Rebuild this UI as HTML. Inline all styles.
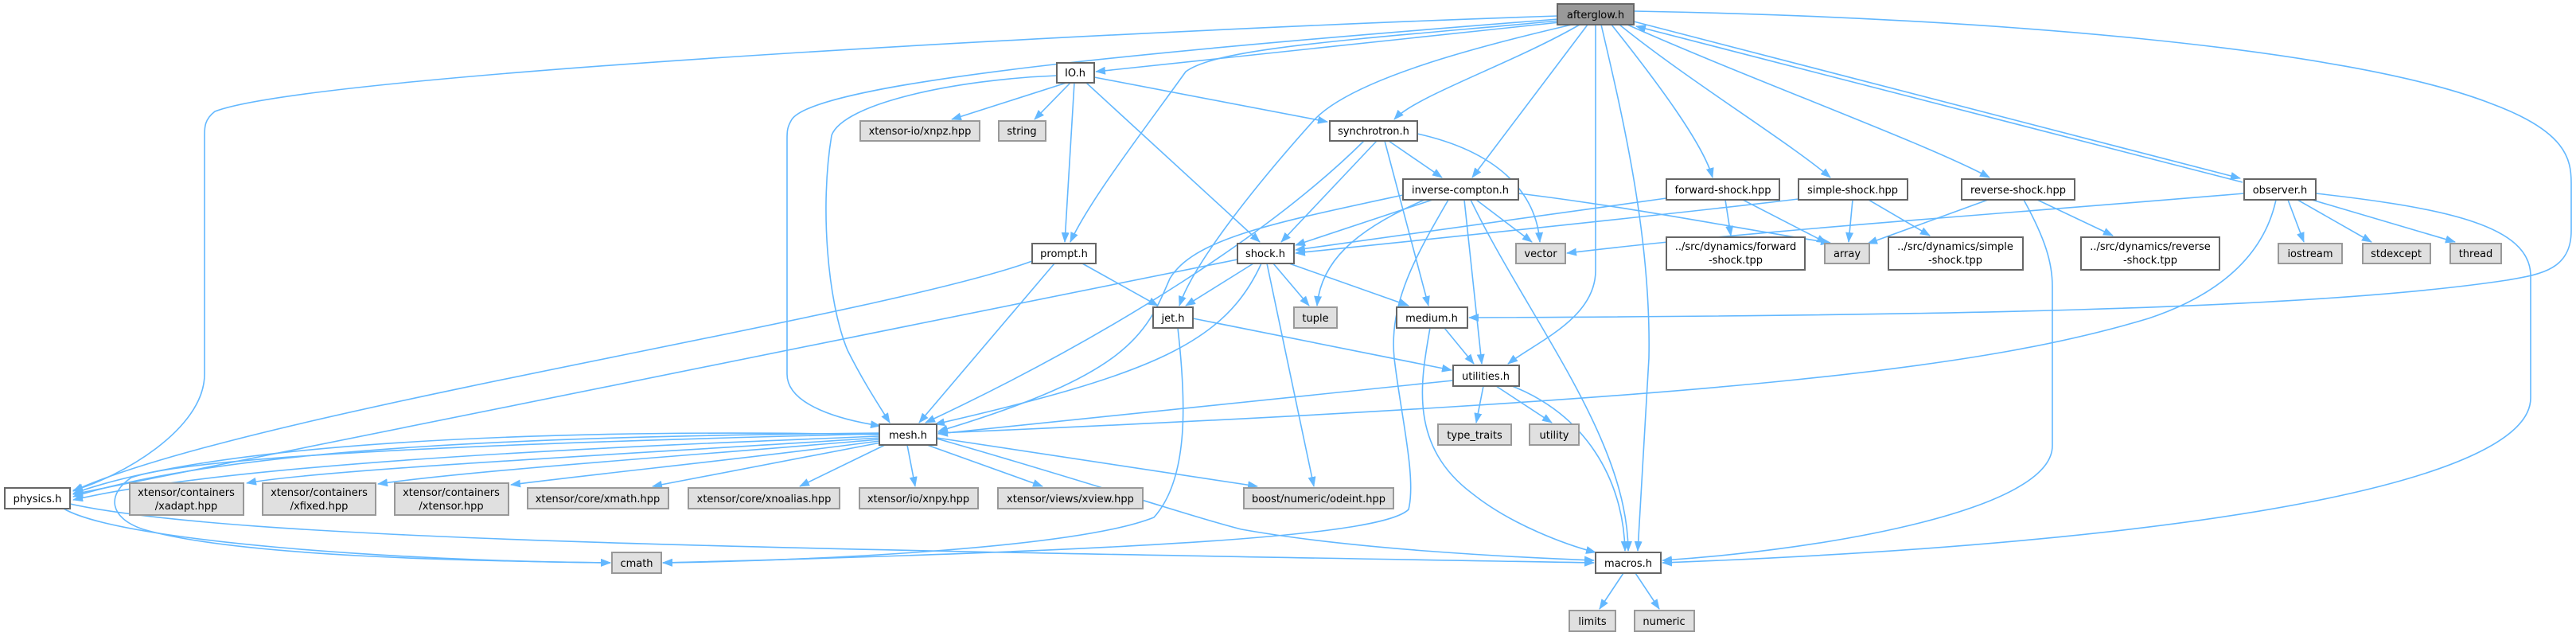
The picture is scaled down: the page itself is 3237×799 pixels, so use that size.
<!DOCTYPE html>
<html><head><meta charset="utf-8"><style>
html,body{margin:0;padding:0;background:#fff;}
svg{display:block;}
text{font-family:"DejaVu Sans","Liberation Sans",sans-serif;font-size:13px;fill:#000;text-anchor:middle;}
.e{fill:none;stroke:#63b8ff;stroke-width:1.6;marker-end:url(#a);}
.n{fill:#fff;stroke:#666;stroke-width:2;}
.g{fill:#e0e0e0;stroke:#999;stroke-width:2;}
</style></head><body>
<svg width="3237" height="799" viewBox="0 0 3237 799" xmlns="http://www.w3.org/2000/svg">
<defs><marker id="a" markerWidth="13" markerHeight="10" refX="12" refY="5" orient="auto" markerUnits="userSpaceOnUse"><path d="M0,0 L13,5 L0,10z" fill="#63b8ff"/></marker></defs>
<g>
<path class="e" d="M1960,28 L1377,90"/>
<path class="e" d="M1958,20 C1500,35 400,90 270,140 C257,150 257,160 257,170 L257,470 C257,540 150,600 92,616"/>
<path class="e" d="M1958,24 C1500,60 1030,100 995,150 C989,160 989,165 989,175 L989,470 C989,510 1060,528 1106,535"/>
<path class="e" d="M1328,95 C1200,100 1060,130 1045,170 C1030,260 1040,380 1065,440 C1085,480 1105,510 1118,531"/>
<path class="e" d="M1960,26 C1700,50 1530,60 1490,90 C1440,160 1370,250 1345,304"/>
<path class="e" d="M1975,31 C1850,60 1700,100 1652,150 C1580,230 1500,330 1482,384"/>
<path class="e" d="M1985,31 C1900,80 1780,120 1752,150"/>
<path class="e" d="M1995,31 L1850,223"/>
<path class="e" d="M2005,31 L2005,340 C2005,400 1930,430 1895,457"/>
<path class="e" d="M2012,31 C2040,150 2075,300 2072,450 L2058,692"/>
<path class="e" d="M2025,31 C2080,100 2140,180 2152,223"/>
<path class="e" d="M2035,31 C2120,100 2250,180 2300,223"/>
<path class="e" d="M2045,31 C2200,100 2420,180 2500,223"/>
<path class="e" d="M2053,27 L2815,224"/>
<path class="e" d="M2818,229 L2056,33"/>
<path class="e" d="M2053,14 C2500,22 2950,60 3130,130 C3225,165 3231,200 3231,230 L3231,290 C3231,340 3190,345 3150,352 C2900,390 2400,397 1846,399"/>
<path class="e" d="M1340,104 L1196,150"/>
<path class="e" d="M1345,104 L1300,150"/>
<path class="e" d="M1350,104 L1338,304"/>
<path class="e" d="M1365,104 L1583,304"/>
<path class="e" d="M1375,97 L1668,153"/>
<path class="e" d="M1781,168 C1880,190 1930,240 1935,304"/>
<path class="e" d="M1745,177 L1812,223"/>
<path class="e" d="M1730,177 L1610,304"/>
<path class="e" d="M1740,177 L1795,384"/>
<path class="e" d="M1714,177 C1600,290 1400,420 1163,531"/>
<path class="e" d="M1800,251 L1628,308"/>
<path class="e" d="M1763,245 C1600,280 1500,300 1470,350 C1440,420 1420,470 1179,542"/>
<path class="e" d="M1790,251 C1700,290 1660,330 1655,384"/>
<path class="e" d="M1840,251 L1862,457"/>
<path class="e" d="M1855,251 L1925,304"/>
<path class="e" d="M1908,243 C2050,260 2200,290 2300,305"/>
<path class="e" d="M1848,251 C1920,400 2045,550 2046,692"/>
<path class="e" d="M1820,251 C1780,320 1745,380 1752,450 C1760,520 1780,600 1770,640 C1740,670 1500,690 833,707"/>
<path class="e" d="M1575,331 L1490,384"/>
<path class="e" d="M1600,331 L1645,384"/>
<path class="e" d="M1620,331 L1770,384"/>
<path class="e" d="M1585,331 C1540,430 1450,470 1175,533"/>
<path class="e" d="M1555,326 L92,621"/>
<path class="e" d="M1592,331 L1651,611"/>
<path class="e" d="M1360,331 L1455,384"/>
<path class="e" d="M1325,331 L1155,531"/>
<path class="e" d="M1297,328 C1100,400 300,520 92,617"/>
<path class="e" d="M1499,400 L1824,465"/>
<path class="e" d="M1480,412 C1490,500 1495,600 1450,650 C1350,690 1000,705 833,707"/>
<path class="e" d="M1815,412 L1852,457"/>
<path class="e" d="M1797,412 C1785,480 1770,560 1850,620 C1900,660 1970,685 2005,694"/>
<path class="e" d="M1826,478 L1179,545"/>
<path class="e" d="M1864,485 L1855,531"/>
<path class="e" d="M1880,485 L1950,531"/>
<path class="e" d="M1900,485 C1990,520 2040,600 2042,692"/>
<path class="e" d="M1105,548 C800,560 300,580 92,628"/>
<path class="e" d="M1105,544 C700,548 300,560 92,624"/>
<path class="e" d="M1105,546 C800,540 300,545 92,620"/>
<path class="e" d="M1105,550 C800,570 400,590 310,607"/>
<path class="e" d="M1105,552 C900,570 600,590 475,608"/>
<path class="e" d="M1105,554 C950,575 750,595 642,609"/>
<path class="e" d="M1107,556 L820,611"/>
<path class="e" d="M1112,559 L1005,611"/>
<path class="e" d="M1140,559 L1150,611"/>
<path class="e" d="M1165,559 L1310,611"/>
<path class="e" d="M1177,550 L1580,611"/>
<path class="e" d="M1177,551 C1350,600 1500,650 1560,665 C1700,690 1900,700 2003,704"/>
<path class="e" d="M1105,545 C700,555 250,570 165,600 C135,620 135,650 180,665 C300,700 600,705 767,707"/>
<path class="e" d="M80,639 C150,680 500,705 767,707"/>
<path class="e" d="M88,633 C300,680 1000,690 2003,707"/>
<path class="e" d="M2040,720 L2010,765"/>
<path class="e" d="M2055,720 L2085,765"/>
<path class="e" d="M2094,249 L1628,314"/>
<path class="e" d="M2260,250 C2050,275 1750,305 1628,318"/>
<path class="e" d="M2168,251 L2175,296"/>
<path class="e" d="M2190,251 L2295,305"/>
<path class="e" d="M2328,251 L2323,304"/>
<path class="e" d="M2348,251 L2425,296"/>
<path class="e" d="M2498,251 L2347,306"/>
<path class="e" d="M2560,251 L2655,296"/>
<path class="e" d="M2543,251 C2570,300 2579,330 2579,360 L2579,560 C2579,640 2300,690 2089,704"/>
<path class="e" d="M2820,243 C2500,270 2200,290 1969,318"/>
<path class="e" d="M2860,251 C2845,320 2790,370 2700,400 C2500,460 2200,500 1179,544"/>
<path class="e" d="M2875,251 L2895,304"/>
<path class="e" d="M2887,251 L2980,304"/>
<path class="e" d="M2905,251 L3085,304"/>
<path class="e" d="M2910,243 C3080,262 3178,285 3180,345 L3180,500 C3180,600 2800,680 2089,707"/>
</g>
<g>
<rect x="1957" y="5" width="96" height="26" fill="#999" stroke="#666" stroke-width="2"/><text x="2005" y="23">afterglow.h</text>
<rect class="n" x="1328" y="79" width="47" height="25"/><text x="1351" y="96">IO.h</text>
<rect class="g" x="1081" y="152" width="150" height="25"/><text x="1156" y="169">xtensor-io/xnpz.hpp</text>
<rect class="g" x="1255" y="152" width="59" height="25"/><text x="1284" y="169">string</text>
<rect class="n" x="1671" y="152" width="110" height="25"/><text x="1726" y="169">synchrotron.h</text>
<rect class="n" x="1763" y="225" width="145" height="26"/><text x="1835" y="243">inverse-compton.h</text>
<rect class="n" x="2094" y="225" width="142" height="26"/><text x="2165" y="243">forward-shock.hpp</text>
<rect class="n" x="2260" y="225" width="137" height="26"/><text x="2328" y="243">simple-shock.hpp</text>
<rect class="n" x="2465" y="225" width="142" height="26"/><text x="2536" y="243">reverse-shock.hpp</text>
<rect class="n" x="2820" y="225" width="90" height="26"/><text x="2865" y="243">observer.h</text>
<rect class="n" x="1297" y="306" width="80" height="25"/><text x="1337" y="323">prompt.h</text>
<rect class="n" x="1555" y="306" width="71" height="25"/><text x="1590" y="323">shock.h</text>
<rect class="g" x="1905" y="306" width="62" height="25"/><text x="1936" y="323">vector</text>
<rect class="n" x="2094" y="298" width="174" height="41"/><text x="2181" y="314">../src/dynamics/forward</text><text x="2181" y="331">-shock.tpp</text>
<rect class="g" x="2293" y="306" width="56" height="25"/><text x="2321" y="323">array</text>
<rect class="n" x="2373" y="298" width="169" height="41"/><text x="2457" y="314">../src/dynamics/simple</text><text x="2457" y="331">-shock.tpp</text>
<rect class="n" x="2615" y="298" width="174" height="41"/><text x="2702" y="314">../src/dynamics/reverse</text><text x="2702" y="331">-shock.tpp</text>
<rect class="g" x="2863" y="306" width="80" height="25"/><text x="2903" y="323">iostream</text>
<rect class="g" x="2969" y="306" width="85" height="25"/><text x="3011" y="323">stdexcept</text>
<rect class="g" x="3079" y="306" width="64" height="25"/><text x="3111" y="323">thread</text>
<rect class="n" x="1449" y="386" width="50" height="26"/><text x="1474" y="404">jet.h</text>
<rect class="g" x="1626" y="386" width="54" height="26"/><text x="1653" y="404">tuple</text>
<rect class="n" x="1755" y="386" width="89" height="26"/><text x="1799" y="404">medium.h</text>
<rect class="n" x="1826" y="459" width="83" height="26"/><text x="1867" y="477">utilities.h</text>
<rect class="g" x="1807" y="533" width="92" height="26"/><text x="1853" y="551">type_traits</text>
<rect class="g" x="1922" y="533" width="62" height="26"/><text x="1953" y="551">utility</text>
<rect class="n" x="1105" y="533" width="72" height="26"/><text x="1141" y="551">mesh.h</text>
<rect class="n" x="6" y="613" width="82" height="26"/><text x="47" y="631">physics.h</text>
<rect class="g" x="163" y="607" width="143" height="40"/><text x="234" y="623">xtensor/containers</text><text x="234" y="640">/xadapt.hpp</text>
<rect class="g" x="330" y="607" width="142" height="40"/><text x="401" y="623">xtensor/containers</text><text x="401" y="640">/xfixed.hpp</text>
<rect class="g" x="496" y="607" width="143" height="40"/><text x="567" y="623">xtensor/containers</text><text x="567" y="640">/xtensor.hpp</text>
<rect class="g" x="663" y="613" width="177" height="26"/><text x="751" y="631">xtensor/core/xmath.hpp</text>
<rect class="g" x="865" y="613" width="190" height="26"/><text x="960" y="631">xtensor/core/xnoalias.hpp</text>
<rect class="g" x="1080" y="613" width="149" height="26"/><text x="1154" y="631">xtensor/io/xnpy.hpp</text>
<rect class="g" x="1254" y="613" width="182" height="26"/><text x="1345" y="631">xtensor/views/xview.hpp</text>
<rect class="g" x="1563" y="613" width="188" height="26"/><text x="1657" y="631">boost/numeric/odeint.hpp</text>
<rect class="g" x="769" y="694" width="62" height="26"/><text x="800" y="712">cmath</text>
<rect class="n" x="2005" y="694" width="82" height="26"/><text x="2046" y="712">macros.h</text>
<rect class="g" x="1972" y="767" width="58" height="26"/><text x="2001" y="785">limits</text>
<rect class="g" x="2054" y="767" width="75" height="26"/><text x="2091" y="785">numeric</text>
</g>
</svg>
</body></html>
